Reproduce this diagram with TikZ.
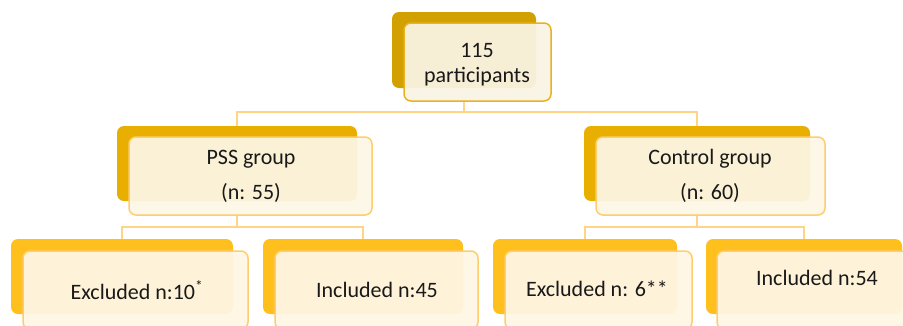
\documentclass[tikz,border=0pt]{standalone}
\usepackage{fontspec}
\setmainfont{Carlito}
\definecolor{backA}{RGB}{210,160,0}
\definecolor{backB}{RGB}{232,174,0}
\definecolor{backC}{RGB}{255,192,30}
\definecolor{frontA}{RGB}{250,243,228}
\definecolor{frontB}{RGB}{252,246,228}
\definecolor{frontC}{RGB}{254,247,228}
\definecolor{edgeA}{RGB}{234,178,30}
\definecolor{edgeB}{RGB}{255,204,110}
\definecolor{connc}{RGB}{255,212,135}
\begin{document}
\begin{tikzpicture}[x=1pt,y=-1pt,
  backbox/.style={draw=none, rounded corners=7pt, inner sep=0pt},
  frontbox/.style={rounded corners=7pt, line width=1.5pt, fill opacity=0.94, text opacity=1, inner sep=0pt, align=center},
  lbl/.style={font=\fontsize{22}{26}\selectfont, text=black!90},
  conn/.style={draw=connc, line width=1.5pt}]
\useasboundingbox (0,0) rectangle (903,325);
\clip (0,0) rectangle (903,325);
% junction coordinates
\coordinate (j1) at (464,112);
\coordinate (j2) at (237,227);
\coordinate (j3) at (697,227);
% level 1
\node[backbox, fill=backA, minimum width=144pt, minimum height=76pt] (tb) at (464,50) {};
% level 2
\node[backbox, fill=backB, minimum width=240pt, minimum height=75pt] (pb) at (237,163.5) {};
\node[backbox, fill=backB, minimum width=226pt, minimum height=75pt] (cb) at (697,163.5) {};
% level 3
\node[backbox, fill=backC, minimum width=222pt, minimum height=75pt] (eb1) at (122,276.5) {};
\node[backbox, fill=backC, minimum width=200pt, minimum height=75pt] (ib1) at (363,276.5) {};
\node[backbox, fill=backC, minimum width=184pt, minimum height=75pt] (eb2) at (585,276.5) {};
\node[backbox, fill=backC, minimum width=196pt, minimum height=75pt] (ib2) at (804,276.5) {};
% connectors drawn under front boxes
\draw[conn] (j1 |- 0,100) -- (j1);
\draw[conn] (pb.north) |- (j1) -| (cb.north);
\draw[conn] (j2 |- 0,214) -- (j2);
\draw[conn] (eb1.north) |- (j2) -| (ib1.north);
\draw[conn] (j3 |- 0,214) -- (j3);
\draw[conn] (eb2.north) |- (j3) -| (ib2.north);
% front boxes
\node[frontbox, draw=edgeA, fill=frontA, minimum width=147pt, minimum height=78pt] (tf) at (477.5,62) {};
\node[lbl] (t1) at (477,50) {115};
\node[lbl] (t2) at (477,77) {participants};
\node[frontbox, draw=edgeB, fill=frontB, minimum width=243pt, minimum height=78pt] (pf) at (250.5,176) {};
\node[lbl] (p1) at (251,159) {PSS group};
\node[lbl] (p2) at (251,193) {(n: 55)};
\node[frontbox, draw=edgeB, fill=frontB, minimum width=229pt, minimum height=78pt] (cf) at (710.5,176) {};
\node[lbl] (c1) at (710,159) {Control group};
\node[lbl] (c2) at (710,193) {(n: 60)};
\node[frontbox, draw=edgeB, fill=frontC, minimum width=225pt, minimum height=78pt] (ef1) at (135.5,290) {};
\node[lbl] (e1) at (137,290) {Excluded n:10\textsuperscript{*}};
\node[frontbox, draw=edgeB, fill=frontC, minimum width=203pt, minimum height=78pt] (if1) at (376.5,290) {};
\node[lbl] (i1) at (377,290) {Included n:45};
\node[frontbox, draw=edgeB, fill=frontC, minimum width=187pt, minimum height=78pt] (ef2) at (598.5,290) {};
\node[lbl] (e2) at (597,289) {Excluded n: 6**};
\node[frontbox, draw=edgeB, fill=frontC, minimum width=199pt, minimum height=78pt] (if2) at (816.5,290) {};
\node[lbl] (i2) at (817,278) {Included n:54};
\end{tikzpicture}
\end{document}
